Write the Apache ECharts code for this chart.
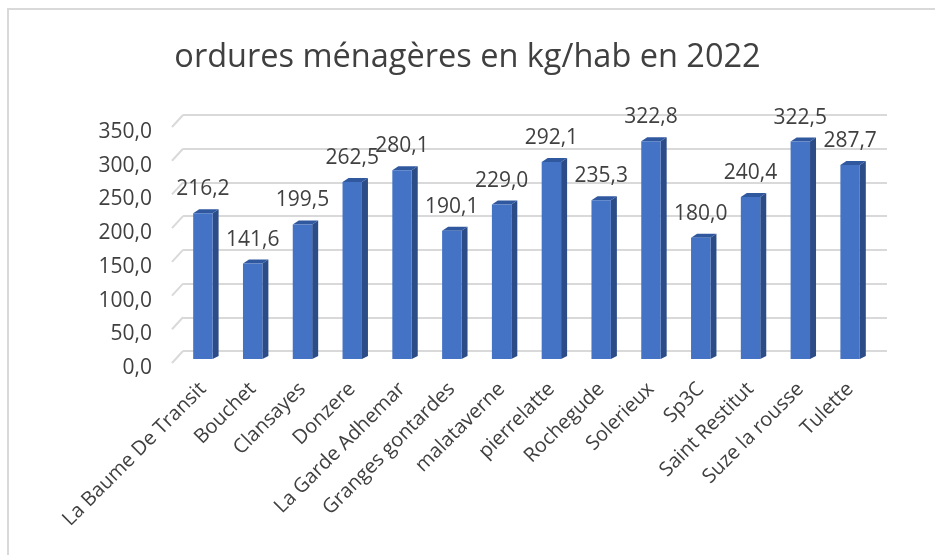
<!DOCTYPE html>
<html>
<head>
<meta charset="utf-8">
<script src="https://cdn.jsdelivr.net/npm/echarts@6/dist/echarts.min.js"></script>
<style>
html,body{margin:0;padding:0;background:#fff;}
#chart{width:935px;height:555px;}
</style>
</head>
<body>
<div id="chart"></div>
<script>
var titleText = 'ordures ménagères en kg/hab en 2022';
var categories = ['La Baume De Transit','Bouchet','Clansayes','Donzere','La Garde Adhemar','Granges gontardes','malataverne','pierrelatte','Rochegude','Solerieux','Sp3C','Saint Restitut','Suze la rousse','Tulette'];
var values = [216.2,141.6,199.5,262.5,280.1,190.1,229.0,292.1,235.3,322.8,180.0,240.4,322.5,287.7];
var yTicks = [0,50,100,150,200,250,300,350];

var FONT = '"Open Sans", "Noto Sans", sans-serif';
function fmt(v){ return v.toFixed(1).replace('.', ','); }

var chart = echarts.init(document.getElementById('chart'), null, {renderer:'canvas'});

var option = {
  backgroundColor: '#ffffff',
  animation: false,
  title: {
    text: titleText,
    left: 'center',
    top: 36,
    textStyle: {fontFamily: FONT, fontSize: 32.5, fontWeight: 'normal', color: '#404040'}
  },
  graphic: [{
    type: 'rect',
    shape: {x: 8, y: 9, width: 940, height: 560},
    style: {fill: 'none', stroke: '#d9d9d9', lineWidth: 2},
    silent: true
  }],
  grid: [
    {left: 178, right: 60, top: 123, bottom: 196},
    {left: 183, right: 48, top: 115, bottom: 204},
    {left: 178, right: 60, top: 132, bottom: 187}
  ],
  xAxis: [
    {
      type: 'category', gridIndex: 0, data: categories,
      axisLine: {show: false}, axisTick: {show: false},
      axisLabel: {rotate: 45, interval: 0, margin: 27, fontFamily: FONT, fontSize: 20, color: '#404040'}
    },
    {
      type: 'category', gridIndex: 1, data: categories,
      axisLine: {show: false}, axisTick: {show: false}, axisLabel: {show: false}
    },
    {
      type: 'category', gridIndex: 2, data: categories, show: false
    }
  ],
  yAxis: [
    {
      type: 'value', gridIndex: 0, min: 0, max: 350, interval: 50,
      axisLine: {show: false}, axisTick: {show: false},
      splitLine: {show: false}, axisLabel: {show: false}
    },
    {
      type: 'value', gridIndex: 1, min: 0, max: 350, interval: 50,
      axisLine: {show: false}, axisTick: {show: false}, axisLabel: {show: false},
      splitLine: {show: true, lineStyle: {color: '#d9d9d9', width: 2}}
    },
    {
      type: 'value', gridIndex: 2, min: 0, max: 350, interval: 50,
      axisLine: {show: false}, axisTick: {show: false}, splitLine: {show: false},
      axisLabel: {
        margin: 26, fontFamily: FONT, fontSize: 21, color: '#404040',
        formatter: function(v){ return fmt(v); }
      }
    }
  ],
  series: [
    {
      type: 'custom', xAxisIndex: 1, yAxisIndex: 1,
      data: yTicks.map(function(t){ return [0, t]; }),
      silent: true, z: 1,
      renderItem: function(params, api){
        var p = api.coord([0, api.value(1)]);
        var x0 = params.coordSys.x;
        return {
          type: 'line',
          shape: {x1: x0 - 11, y1: p[1] + 12, x2: x0, y2: p[1]},
          style: {stroke: '#d9d9d9', lineWidth: 2}
        };
      }
    },
    {
      type: 'custom', xAxisIndex: 0, yAxisIndex: 0,
      data: values.map(function(v, i){ return [i, v]; }),
      z: 5,
      renderItem: function(params, api){
        var cx = api.coord([api.value(0), 0])[0];
        var yb = api.coord([api.value(0), 0])[1];
        var yt = api.coord([api.value(0), api.value(1)])[1];
        var band = api.size([1, 0])[0];
        var w = band * 0.39;
        var dx = 6, dy = 4;
        var xl = cx - w / 2, xr = cx + w / 2;
        return {
          type: 'group',
          children: [
            {type: 'polygon', shape: {points: [[xr, yt], [xr + dx, yt - dy], [xr + dx, yb - 3], [xr, yb]]},
             style: {fill: '#2c4c88'}},
            {type: 'polygon', shape: {points: [[xl, yt], [xl + dx, yt - dy], [xr + dx, yt - dy], [xr, yt]]},
             style: {fill: '#30589f'}},
            {type: 'rect', shape: {x: xl, y: yt, width: w, height: yb - yt},
             style: {fill: '#4472c4'}},
            {type: 'text', x: cx, y: yt - 24,
             style: {text: fmt(api.value(1)), fill: '#404040', fontFamily: FONT, fontSize: 21,
                     align: 'center', verticalAlign: 'middle'}}
          ]
        };
      }
    }
  ]
};
chart.setOption(option);
</script>
</body>
</html>
